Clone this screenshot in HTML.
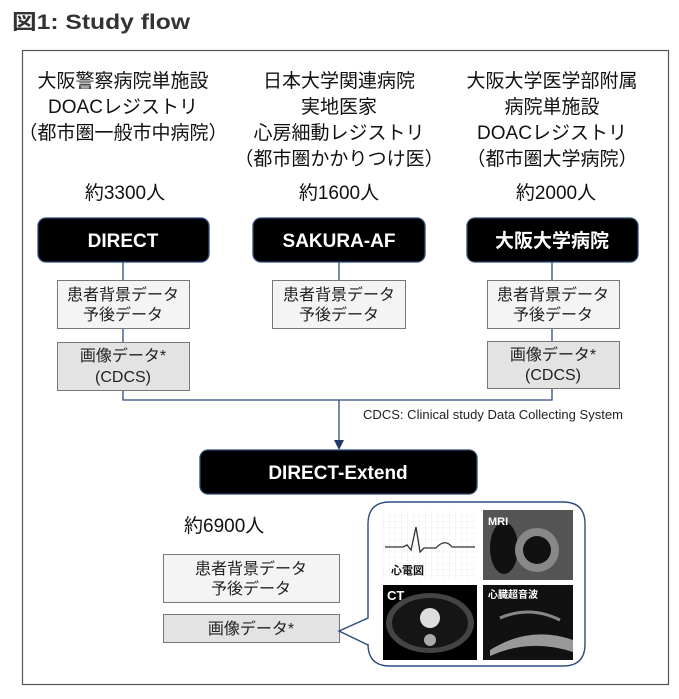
<!DOCTYPE html>
<html><head><meta charset="utf-8"><style>
body{margin:0;background:#fff;width:679px;height:694px;overflow:hidden}
svg text{font-family:"Liberation Sans","Noto Sans CJK JP",sans-serif}
</style></head><body>
<svg width="679" height="694" viewBox="0 0 679 694" xmlns="http://www.w3.org/2000/svg">
<defs>
<pattern id="grid" width="6" height="6" patternUnits="userSpaceOnUse"><path d="M6 0V6H0" fill="none" stroke="#ccc" stroke-width="0.6" stroke-dasharray="1 1"/></pattern>
</defs>
<text x="12" y="29" font-size="21" font-weight="bold" fill="#333" textLength="178" lengthAdjust="spacingAndGlyphs">図1: Study flow</text>
<rect x="22.5" y="50.5" width="646" height="634" fill="none" stroke="#555" stroke-width="1.2"/>
<g font-size="19" fill="#111" text-anchor="middle">
<text x="123" y="87">大阪警察病院単施設</text>
<text x="123" y="113">DOACレジストリ</text>
<text x="123" y="139">（都市圏一般市中病院）</text>
<text x="339" y="87">日本大学関連病院</text>
<text x="339" y="113">実地医家</text>
<text x="339" y="139">心房細動レジストリ</text>
<text x="339" y="165">（都市圏かかりつけ医）</text>
<text x="552" y="87">大阪大学医学部附属</text>
<text x="552" y="113">病院単施設</text>
<text x="552" y="139">DOACレジストリ</text>
<text x="552" y="165">（都市圏大学病院）</text>
<text x="125" y="199">約3300人</text>
<text x="339" y="199">約1600人</text>
<text x="556" y="199">約2000人</text>
</g>
<g stroke="#2f4a7a" stroke-width="1.3" fill="none">
<path d="M123 262V400H552V262"/>
<path d="M339 262V280"/>
<path d="M339 400V442"/>
</g>
<path d="M334 440L344 440L339 450Z" fill="#1f3a6a"/>
<g stroke="#2f4a7a" stroke-width="1.3">
<rect x="38" y="218" width="171" height="44" rx="8" fill="#000"/>
<rect x="253" y="218" width="172" height="44" rx="8" fill="#000"/>
<rect x="467" y="218" width="171" height="44" rx="8" fill="#000"/>
<rect x="200" y="450" width="277" height="44" rx="8" fill="#000"/>
</g>
<g font-size="19" font-weight="bold" fill="#fff" text-anchor="middle">
<text x="123" y="247">DIRECT</text>
<text x="339" y="247">SAKURA-AF</text>
<text x="552" y="247">大阪大学病院</text>
<text x="338" y="479">DIRECT-Extend</text>
</g>
<g stroke="#777" stroke-width="1">
<rect x="57.5" y="280.5" width="132" height="48" fill="#f4f4f4"/>
<rect x="272.5" y="280.5" width="133" height="48" fill="#f4f4f4"/>
<rect x="487.5" y="280.5" width="132" height="48" fill="#f4f4f4"/>
<rect x="57.5" y="342.5" width="132" height="48" fill="#e3e3e3"/>
<rect x="487.5" y="341.5" width="132" height="47" fill="#e3e3e3"/>
<rect x="163.5" y="554.5" width="176" height="48" fill="#f4f4f4"/>
<rect x="163.5" y="614.5" width="176" height="28" fill="#e3e3e3"/>
</g>
<g font-size="16" fill="#222" text-anchor="middle">
<text x="123" y="300">患者背景データ</text><text x="123" y="320">予後データ</text>
<text x="339" y="300">患者背景データ</text><text x="339" y="320">予後データ</text>
<text x="553" y="300">患者背景データ</text><text x="553" y="320">予後データ</text>
<text x="123" y="361">画像データ*</text><text x="123" y="382">(CDCS)</text>
<text x="553" y="360">画像データ*</text><text x="553" y="380">(CDCS)</text>
<text x="251" y="574">患者背景データ</text><text x="251" y="594">予後データ</text>
<text x="251" y="634">画像データ*</text>
</g>
<text x="184" y="532" font-size="19" fill="#111">約6900人</text>
<text x="363" y="419" font-size="13" fill="#222" textLength="260" lengthAdjust="spacingAndGlyphs">CDCS: Clinical study Data Collecting System</text>
<path d="M390 502H563Q585 502 585 524V644Q585 666 563 666H390Q368 666 368 644V645L339 631L368 618V524Q368 502 390 502Z" fill="#fff" stroke="#2f4a7a" stroke-width="1.4"/>
<rect x="383" y="510" width="94" height="70" fill="#fff"/>
<rect x="383" y="510" width="94" height="70" fill="url(#grid)"/>
<path d="M385 547H403L407 545L411 550L416 527L420 552L424 548H436Q445 538 452 547H475" fill="none" stroke="#333" stroke-width="1.3"/>
<text x="391" y="574" font-size="11" font-weight="bold" fill="#111">心電図</text>
<rect x="483" y="510" width="90" height="70" fill="#555"/>
<ellipse cx="504" cy="548" rx="14" ry="26" fill="#111"/>
<circle cx="537" cy="550" r="22" fill="#888"/>
<circle cx="537" cy="550" r="14" fill="#111"/>
<text x="488" y="525" font-size="11" font-weight="bold" fill="#fff">MRI</text>
<rect x="383" y="585" width="94" height="75" fill="#000"/>
<ellipse cx="430" cy="623" rx="44" ry="30" fill="#444"/>
<ellipse cx="430" cy="623" rx="38" ry="25" fill="#151515"/>
<circle cx="430" cy="618" r="10" fill="#ddd"/>
<circle cx="430" cy="640" r="6" fill="#aaa"/>
<text x="387" y="600" font-size="13" font-weight="bold" fill="#fff">CT</text>
<rect x="483" y="585" width="90" height="75" fill="#111"/>
<path d="M490 650Q530 625 573 640L573 652Q530 638 490 656Z" fill="#999"/>
<path d="M500 618Q530 605 560 620" fill="none" stroke="#888" stroke-width="3"/>
<text x="488" y="598" font-size="10" font-weight="bold" fill="#fff">心臓超音波</text>
</svg>
</body></html>
